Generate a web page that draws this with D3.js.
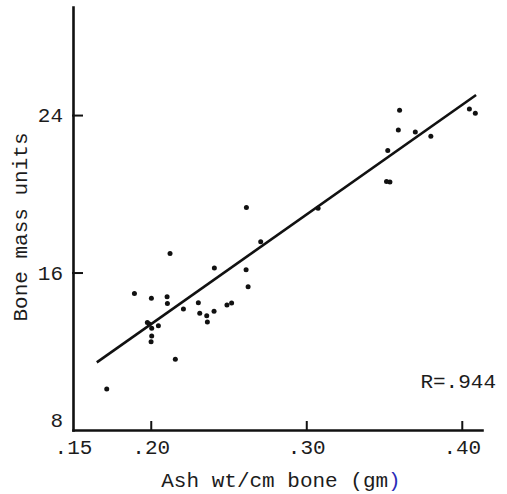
<!DOCTYPE html>
<html>
<head>
<meta charset="utf-8">
<script src="https://cdn.jsdelivr.net/npm/d3@7"></script>
<style>
  html, body { margin: 0; padding: 0; background: #fff; }
  svg { display: block; }
  text { font-family: "Liberation Mono", "DejaVu Sans Mono", monospace; fill: #1c1c1c; }
</style>
</head>
<body>
<svg id="chart" width="507" height="494"></svg>
<script>
// Ash weight per cm of bone (gm) against bone mass units
const ashWt = [
  0.1717, 0.1895, 0.1978, 0.1990, 0.2004, 0.2006, 0.2006, 0.2002, 0.2049,
  0.2105, 0.2107, 0.2124, 0.2158, 0.2210, 0.2306, 0.2315, 0.2360, 0.2364,
  0.2407, 0.2409, 0.2490, 0.2520, 0.2613, 0.2615, 0.2626, 0.2707, 0.3076,
  0.3516, 0.3538, 0.3524, 0.3592, 0.3600, 0.3701, 0.3801, 0.4049, 0.4087
];
const boneMass = [
  10.08, 14.94, 13.46, 13.38, 14.69, 13.17, 12.77, 12.48, 13.30,
  14.77, 14.43, 16.97, 11.59, 14.15, 14.47, 13.93, 13.81, 13.49,
  14.03, 16.23, 14.35, 14.45, 16.14, 19.31, 15.28, 17.57, 19.27,
  20.62, 20.60, 22.20, 23.24, 24.25, 23.14, 22.92, 24.31, 24.09
];

// Fitted regression line and the x span it is drawn over
const fitSlope = 55.7;
const fitIntercept = 2.23;
const fitRange = [0.1653, 0.4092];

const xTicks = [0.15, 0.20, 0.30, 0.40];
const xTickLabels = [".15", ".20", ".30", ".40"];
const yTicks = [8, 16, 24];
const yTickLabels = ["8", "16", "24"];

const xTitle = "Ash wt/cm bone (gm";
const yTitle = "Bone mass units";
const rLabel = "R=.944";

const svg = d3.select("#chart");

const x = d3.scaleLinear().domain([0.15, 0.413]).range([73, 482]);
const y = d3.scaleLinear().domain([8, 29.49]).range([430, 7]);

// x axis: ticks point up into the plot
const xAxis = svg.append("g")
  .attr("transform", `translate(0,${y(8)})`)
  .call(d3.axisBottom(x)
    .tickValues(xTicks)
    .tickFormat((d, i) => xTickLabels[i])
    .tickSizeInner(-8)
    .tickSizeOuter(0)
    .tickPadding(9));
xAxis.select(".domain").attr("stroke", "#111").attr("stroke-width", 2.6);
xAxis.selectAll(".tick line").attr("stroke", "#111").attr("stroke-width", 2)
  .filter(d => d === 0.15).remove();
xAxis.selectAll(".tick text").attr("font-size", 21).attr("fill", "#1c1c1c");

// y axis: ticks point right into the plot
const yAxis = svg.append("g")
  .attr("transform", `translate(${x(0.15)},0)`)
  .call(d3.axisLeft(y)
    .tickValues(yTicks)
    .tickFormat((d, i) => yTickLabels[i])
    .tickSizeInner(-9)
    .tickSizeOuter(0)
    .tickPadding(10));
yAxis.select(".domain").attr("stroke", "#111").attr("stroke-width", 2.6);
yAxis.selectAll(".tick line").attr("stroke", "#111").attr("stroke-width", 2)
  .filter(d => d === 8).remove();
yAxis.selectAll(".tick text").attr("font-size", 21).attr("fill", "#1c1c1c")
  .filter(d => d === 8).attr("dy", "-0.15em");
svg.selectAll(".domain, .tick line").attr("stroke-linecap", "square");

// regression line
svg.append("line")
  .attr("x1", x(fitRange[0]))
  .attr("y1", y(fitIntercept + fitSlope * fitRange[0]))
  .attr("x2", x(fitRange[1]))
  .attr("y2", y(fitIntercept + fitSlope * fitRange[1]))
  .attr("stroke", "#111")
  .attr("stroke-width", 2.6);

// observations
svg.append("g")
  .selectAll("circle")
  .data(ashWt.map((v, i) => [v, boneMass[i]]))
  .join("circle")
  .attr("cx", d => x(d[0]))
  .attr("cy", d => y(d[1]))
  .attr("r", 2.5)
  .attr("fill", "#111");

// titles
const xt = svg.append("text")
  .attr("x", 281)
  .attr("y", 487)
  .attr("text-anchor", "middle")
  .attr("font-size", 21);
xt.append("tspan").text(xTitle);
xt.append("tspan").attr("fill", "#2b2bb8").style("fill", "#2b2bb8").text(")");

svg.append("text")
  .attr("transform", "translate(27,227) rotate(-90)")
  .attr("text-anchor", "middle")
  .attr("font-size", 21)
  .text(yTitle);

svg.append("text")
  .attr("x", 496)
  .attr("y", 388)
  .attr("text-anchor", "end")
  .attr("font-size", 21)
  .text(rLabel);
</script>
</body>
</html>
